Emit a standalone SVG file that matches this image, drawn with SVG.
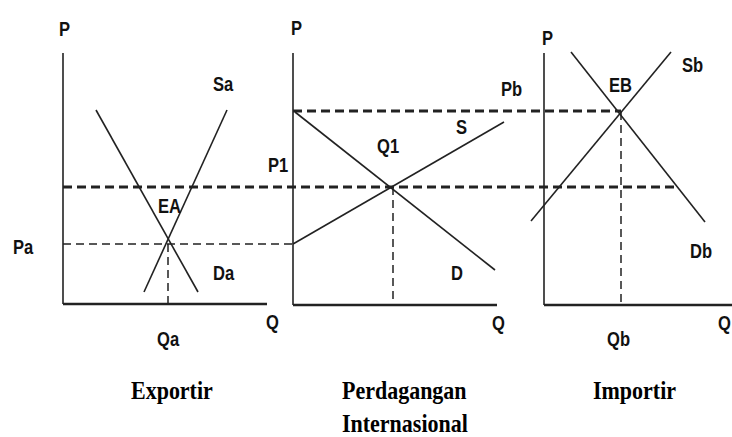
<svg xmlns="http://www.w3.org/2000/svg" width="732" height="437" viewBox="0 0 732 437">
<style>
.ax{stroke:#222;stroke-width:1.6;fill:none}
.xa{stroke:#222;stroke-width:2.4;fill:none}
.cv{stroke:#222;stroke-width:1.6;fill:none}
.dt{stroke:#222;stroke-width:3;stroke-dasharray:9 5;fill:none}
.dn{stroke:#222;stroke-width:1.5;stroke-dasharray:8 5;fill:none}
.lb{font-family:"Liberation Sans",Arial,sans-serif;font-weight:bold;font-size:18px;fill:#111}
.tt{font-family:"Liberation Serif","Times New Roman",serif;font-weight:bold;font-size:22px;fill:#000}
</style>
<rect width="732" height="437" fill="#fff"/>
<g id="connectors">
<line class="dn" x1="63" y1="244" x2="293" y2="244"/>
<line class="dt" x1="63" y1="187" x2="677" y2="187"/>
<line class="dt" x1="293" y1="111" x2="621" y2="111"/>
<line class="dn" x1="168" y1="244" x2="168" y2="304"/>
<line class="dn" x1="393" y1="187" x2="393" y2="305"/>
<line class="dn" x1="621" y1="112" x2="621" y2="305"/>
</g>
<g id="exportir">
<line class="ax" x1="63" y1="53" x2="63" y2="304"/>
<line class="xa" x1="63" y1="304" x2="267" y2="304"/>
<line class="cv" x1="96" y1="110" x2="198" y2="292"/>
<line class="cv" x1="144" y1="292" x2="227" y2="110"/>
<text class="lb" transform="translate(59,36) scale(0.92,1.1)">P</text>
<text class="lb" transform="translate(213,91) scale(0.92,1.1)">Sa</text>
<text class="lb" transform="translate(158,213) scale(0.92,1.1)">EA</text>
<text class="lb" transform="translate(13,254) scale(0.92,1.1)">Pa</text>
<text class="lb" transform="translate(213,280) scale(0.92,1.1)">Da</text>
<text class="lb" transform="translate(266,329) scale(0.92,1.1)">Q</text>
<text class="lb" transform="translate(157,346) scale(0.92,1.1)">Qa</text>
<text class="tt" transform="translate(131,399) scale(1,1.15)">Exportir</text>
</g>
<g id="perdagangan">
<line class="ax" x1="293" y1="53" x2="293" y2="305"/>
<line class="xa" x1="293" y1="305" x2="497" y2="305"/>
<line class="cv" x1="295" y1="112" x2="495" y2="270"/>
<line class="cv" x1="293" y1="244" x2="504" y2="122"/>
<text class="lb" transform="translate(291,35) scale(0.92,1.1)">P</text>
<text class="lb" transform="translate(501,96) scale(0.92,1.1)">Pb</text>
<text class="lb" transform="translate(456,134) scale(0.92,1.1)">S</text>
<text class="lb" transform="translate(377,153) scale(0.92,1.1)">Q1</text>
<text class="lb" transform="translate(268,172) scale(0.92,1.1)">P1</text>
<text class="lb" transform="translate(451,280) scale(0.92,1.1)">D</text>
<text class="lb" transform="translate(492,330) scale(0.92,1.1)">Q</text>
<text class="tt" transform="translate(342,399) scale(1,1.15)">Perdagangan</text>
<text class="tt" transform="translate(342,432) scale(1,1.15)">Internasional</text>
</g>
<g id="importir">
<line class="ax" x1="544" y1="53" x2="544" y2="305"/>
<line class="xa" x1="544" y1="305" x2="732" y2="305"/>
<line class="cv" x1="571" y1="52" x2="705" y2="222"/>
<line class="cv" x1="531" y1="221" x2="671" y2="52"/>
<text class="lb" transform="translate(542,45) scale(0.92,1.1)">P</text>
<text class="lb" transform="translate(609,92) scale(0.92,1.1)">EB</text>
<text class="lb" transform="translate(682,72) scale(0.92,1.1)">Sb</text>
<text class="lb" transform="translate(690,258) scale(0.92,1.1)">Db</text>
<text class="lb" transform="translate(718,330) scale(0.92,1.1)">Q</text>
<text class="lb" transform="translate(607,346) scale(0.92,1.1)">Qb</text>
<text class="tt" transform="translate(593,399) scale(1,1.15)">Importir</text>
</g>
</svg>
